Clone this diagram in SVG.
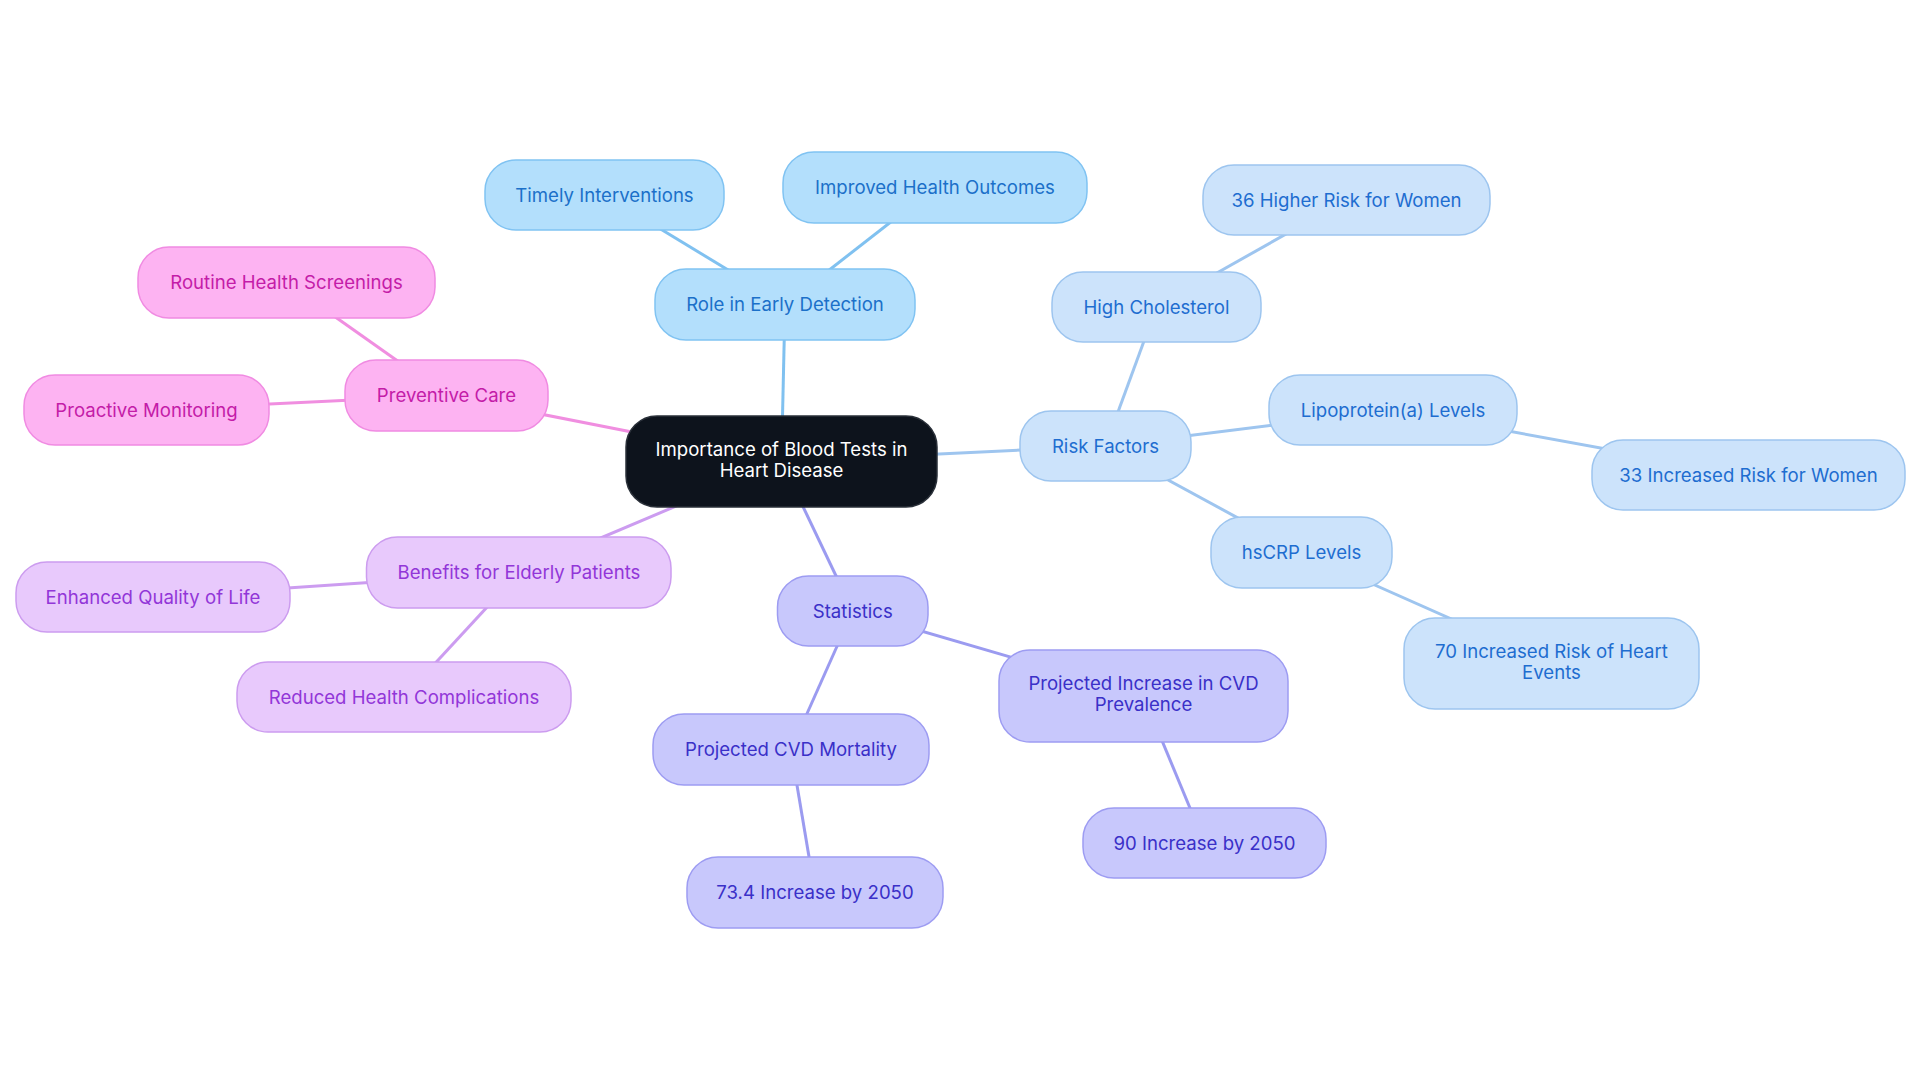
<svg xmlns="http://www.w3.org/2000/svg" width="1920" height="1083" viewBox="0 0 1920 1083">
<style>
text{font-family:Inter,"Noto Sans","Liberation Sans",sans-serif;font-size:18.6px;text-anchor:middle}
.c rect{fill:#0d131c;stroke:#2a3039;stroke-width:1.5}
.c text{fill:#ffffff}
.b rect{fill:#b3dffc;stroke:#80c3f2;stroke-width:1.5}
.b text{fill:#1b70c9}
.r rect{fill:#cce3fb;stroke:#9dc5ef;stroke-width:1.5}
.r text{fill:#1e6dd0}
.s rect{fill:#c8c8fc;stroke:#9d9cf2;stroke-width:1.5}
.s text{fill:#3a30c8}
.e rect{fill:#e8c9fc;stroke:#cc9cef;stroke-width:1.5}
.e text{fill:#9236d8}
.p rect{fill:#fdb3f2;stroke:#f08be2;stroke-width:1.5}
.p text{fill:#c41ca8}
#connectors line{stroke-width:3;fill:none}
.lb{stroke:#80c1f0}
.lr{stroke:#9ec5ef}
.ls{stroke:#9b9bf0}
.le{stroke:#cc9cf0}
.lp{stroke:#f08ee0}
</style>
<rect width="1920" height="1083" fill="#ffffff"/>
<g id="connectors">
<line class="lb" x1="781.5" y1="461.5" x2="785" y2="304.5"/>
<line class="lb" x1="785" y1="304.5" x2="604.5" y2="195"/>
<line class="lb" x1="785" y1="304.5" x2="935" y2="187.5"/>
<line class="lr" x1="781.5" y1="461.5" x2="1105.5" y2="446"/>
<line class="lr" x1="1105.5" y1="446" x2="1156.5" y2="307"/>
<line class="lr" x1="1156.5" y1="307" x2="1346.5" y2="200"/>
<line class="lr" x1="1105.5" y1="446" x2="1393" y2="410"/>
<line class="lr" x1="1393" y1="410" x2="1748.5" y2="475"/>
<line class="lr" x1="1105.5" y1="446" x2="1301.5" y2="552.5"/>
<line class="lr" x1="1301.5" y1="552.5" x2="1551.5" y2="663.5"/>
<line class="ls" x1="781.5" y1="461.5" x2="852.75" y2="611"/>
<line class="ls" x1="852.75" y1="611" x2="1143.5" y2="696"/>
<line class="ls" x1="1143.5" y1="696" x2="1204.5" y2="843"/>
<line class="ls" x1="852.75" y1="611" x2="791" y2="749.5"/>
<line class="ls" x1="791" y1="749.5" x2="815" y2="892.5"/>
<line class="le" x1="781.5" y1="461.5" x2="519" y2="572.5"/>
<line class="le" x1="519" y1="572.5" x2="153" y2="597"/>
<line class="le" x1="519" y1="572.5" x2="404" y2="697"/>
<line class="lp" x1="781.5" y1="461.5" x2="446.5" y2="395.5"/>
<line class="lp" x1="446.5" y1="395.5" x2="286.5" y2="282.5"/>
<line class="lp" x1="446.5" y1="395.5" x2="146.5" y2="410"/>
</g>
<g id="center" class="c"><rect x="626" y="416" width="311" height="91" rx="31"/><text x="781.5" y="455.5">Importance of Blood Tests in</text><text x="781.5" y="476.5">Heart Disease</text></g>
<g id="role" class="b"><rect x="655" y="269" width="260" height="71" rx="31"/><text x="785" y="311">Role in Early Detection</text></g>
<g id="timely" class="b"><rect x="485" y="160" width="239" height="70" rx="31"/><text x="604.5" y="201.5">Timely Interventions</text></g>
<g id="improved" class="b"><rect x="783" y="152" width="304" height="71" rx="31"/><text x="935" y="194">Improved Health Outcomes</text></g>
<g id="risk" class="r"><rect x="1020" y="411" width="171" height="70" rx="31"/><text x="1105.5" y="452.5">Risk Factors</text></g>
<g id="cholesterol" class="r"><rect x="1052" y="272" width="209" height="70" rx="31"/><text x="1156.5" y="313.5">High Cholesterol</text></g>
<g id="higher36" class="r"><rect x="1203" y="165" width="287" height="70" rx="31"/><text x="1346.5" y="206.5">36 Higher Risk for Women</text></g>
<g id="lipo" class="r"><rect x="1269" y="375" width="248" height="70" rx="31"/><text x="1393" y="416.5">Lipoprotein(a) Levels</text></g>
<g id="increased33" class="r"><rect x="1592" y="440" width="313" height="70" rx="31"/><text x="1748.5" y="481.5">33 Increased Risk for Women</text></g>
<g id="hscrp" class="r"><rect x="1211" y="517" width="181" height="71" rx="31"/><text x="1301.5" y="559">hsCRP Levels</text></g>
<g id="increased70" class="r"><rect x="1404" y="618" width="295" height="91" rx="31"/><text x="1551.5" y="657.5">70 Increased Risk of Heart</text><text x="1551.5" y="678.5">Events</text></g>
<g id="statistics" class="s"><rect x="777.5" y="576" width="150.5" height="70" rx="31"/><text x="852.75" y="617.5">Statistics</text></g>
<g id="prevalence" class="s"><rect x="999" y="650" width="289" height="92" rx="31"/><text x="1143.5" y="690">Projected Increase in CVD</text><text x="1143.5" y="711">Prevalence</text></g>
<g id="increase90" class="s"><rect x="1083" y="808" width="243" height="70" rx="31"/><text x="1204.5" y="849.5">90 Increase by 2050</text></g>
<g id="mortality" class="s"><rect x="653" y="714" width="276" height="71" rx="31"/><text x="791" y="756">Projected CVD Mortality</text></g>
<g id="increase734" class="s"><rect x="687" y="857" width="256" height="71" rx="31"/><text x="815" y="899">73.4 Increase by 2050</text></g>
<g id="elderly" class="e"><rect x="366.5" y="537" width="304.5" height="71" rx="31"/><text x="519" y="579">Benefits for Elderly Patients</text></g>
<g id="quality" class="e"><rect x="16" y="562" width="274" height="70" rx="31"/><text x="153" y="603.5">Enhanced Quality of Life</text></g>
<g id="complications" class="e"><rect x="237" y="662" width="334" height="70" rx="31"/><text x="404" y="703.5">Reduced Health Complications</text></g>
<g id="preventive" class="p"><rect x="345" y="360" width="203" height="71" rx="31"/><text x="446.5" y="402">Preventive Care</text></g>
<g id="screenings" class="p"><rect x="138" y="247" width="297" height="71" rx="31"/><text x="286.5" y="289">Routine Health Screenings</text></g>
<g id="monitoring" class="p"><rect x="24" y="375" width="245" height="70" rx="31"/><text x="146.5" y="416.5">Proactive Monitoring</text></g>
</svg>
